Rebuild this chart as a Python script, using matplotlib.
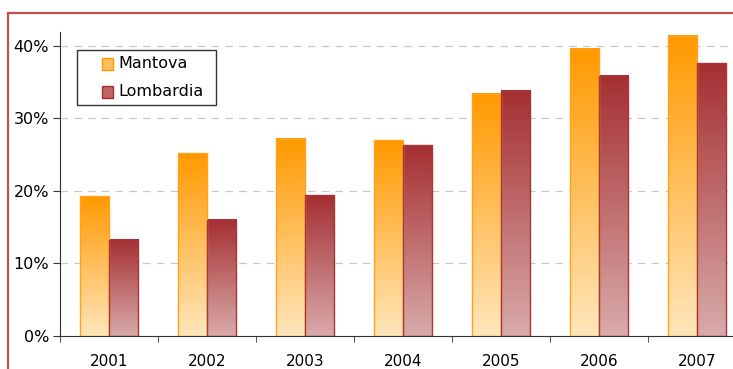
import numpy as np
import matplotlib.pyplot as plt
import matplotlib.colors as colors
from matplotlib.patches import Rectangle

years = ['2001', '2002', '2003', '2004', '2005', '2006', '2007']
mantova = [19.3, 25.2, 27.2, 27.0, 33.4, 39.6, 41.4]
lombardia = [13.3, 16.0, 19.4, 26.3, 33.8, 35.9, 37.6]
series = ['Mantova', 'Lombardia']

W, H = 733, 369
fig = plt.figure(figsize=(W / 100, H / 100), dpi=100)
ax = fig.add_axes([60 / W, 1 - 336 / H, 686 / W, 304 / H])

bar_w = 0.3
x = np.arange(len(years))


def grad_bar(ax, x0, h, top, bottom, edge):
    cmap = colors.LinearSegmentedColormap.from_list('g', [bottom, top])
    grad = np.linspace(0, 1, 256).reshape(-1, 1)
    ax.imshow(grad, extent=[x0, x0 + bar_w, 0, h], origin='lower',
              cmap=cmap, aspect='auto', zorder=2, interpolation='bicubic')
    ax.add_patch(Rectangle((x0, 0), bar_w, h, fill=False, edgecolor=edge,
                           linewidth=1.0, zorder=3))


for i in range(len(years)):
    grad_bar(ax, x[i] - bar_w, mantova[i], '#FF9900', '#FFE6BC', '#FFA31A')
    grad_bar(ax, x[i], lombardia[i], '#A52F32', '#D9AAAA', '#A83538')

ax.set_xlim(-0.5, len(years) - 0.5)
ax.set_ylim(0, 41.93)
ax.set_yticks([0, 10, 20, 30, 40])
ax.set_yticklabels(['0%', '10%', '20%', '30%', '40%'], fontsize=11.5)
ax.set_xticks(x)
ax.set_xticklabels(years, fontsize=11)
ax.set_xticks(np.arange(-0.5, len(years)), minor=True)
ax.tick_params(axis='x', which='major', length=0, pad=13)
ax.tick_params(axis='x', which='minor', length=4, direction='out', color='#333333')
ax.tick_params(axis='y', length=5, color='#333333', pad=3)

for v in [10, 20, 30, 40]:
    ax.axhline(v, color='#C8C8C8', linestyle=(0, (6, 5)), linewidth=0.9, zorder=1)

for s in ['top', 'right']:
    ax.spines[s].set_visible(False)
ax.spines['left'].set_color('#333333')
ax.spines['bottom'].set_color('#333333')

# legend drawn by hand, in figure pixels
def px(xp, yp):
    return xp / W, 1 - yp / H

fig.patches.append(Rectangle(px(77, 105), 139 / W, 55 / H, transform=fig.transFigure,
                             facecolor='white', edgecolor='#333333', linewidth=1.0, zorder=5))
marks = [('#FFC062', '#FF9900', 64), ('#C06466', '#A52F32', 92)]
for name, (fc, ec, yc) in zip(series, marks):
    fig.patches.append(Rectangle(px(102, yc + 5.5), 11 / W, 11 / H, transform=fig.transFigure,
                                 facecolor=fc, edgecolor=ec, linewidth=1.0, zorder=6))
    fig.text(*px(118, yc), name, fontsize=11.5, va='center', ha='left', zorder=6)

fig.patches.append(Rectangle((8 / W, -0.2), 1.2, 1.2 - 13 / H, transform=fig.transFigure,
                             fill=False, edgecolor='#C0504D', linewidth=1.6))

fig.savefig('out.png', dpi=100)
